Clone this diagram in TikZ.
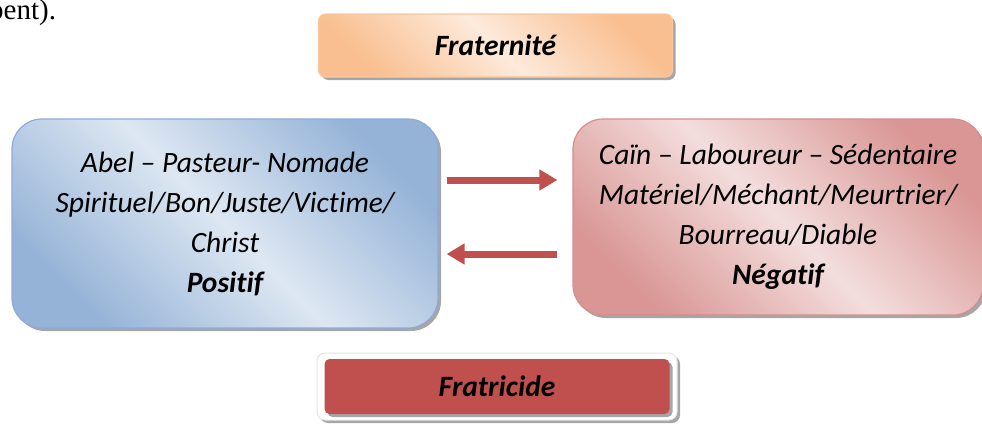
\documentclass[tikz,border=0pt]{standalone}
\usepackage{fontspec}
\setmainfont{Carlito}[Ligatures={NoCommon}]
\newfontfamily\seriffont{Liberation Serif}
\usetikzlibrary{shadows,arrows.meta}
\definecolor{orlight}{HTML}{FDEADB}
\definecolor{ordark}{HTML}{F9BF90}
\definecolor{orline}{HTML}{F8C8A0}
\definecolor{bluelight}{HTML}{DDE7F2}
\definecolor{bluedark}{HTML}{95B3D7}
\definecolor{blueline}{HTML}{8EAADB}
\definecolor{pinklight}{HTML}{F3DEDD}
\definecolor{pinkdark}{HTML}{D99694}
\definecolor{pinkline}{HTML}{D68E8C}
\definecolor{redfill}{HTML}{C0504D}
\definecolor{framegrey}{HTML}{E4E4E4}
\tikzset{
  shade3/.style n args={2}{top color=#1, bottom color=#1, middle color=#2, shading angle=-45},
  boxshadow/.style={drop shadow={shadow xshift=3pt, shadow yshift=-3pt, fill=black!35, opacity=1}},
  bigbox/.style={rounded corners=30pt, line width=1.2pt, boxshadow, align=center, inner sep=0pt,
                 font=\itshape\fontsize{29.5}{40}\selectfont},
  titlebox/.style={rounded corners=7pt, line width=1.2pt, boxshadow, inner sep=0pt,
                 font=\bfseries\itshape\fontsize{29.5}{32}\selectfont},
  arr/.style={draw=redfill, line width=7pt, -{Triangle[length=18pt,width=20pt]}}
}
\begin{document}
\begin{tikzpicture}[x=1pt,y=-1pt]
\path[use as bounding box, clip] (0,0) rectangle (982,424);

\node[anchor=base west, font=\seriffont\fontsize{29}{32}\selectfont, inner sep=0pt] (prev) at (-11,19.5) {pent).};

\node[titlebox, draw=orline, shade3={ordark}{orlight}, minimum width=354pt, minimum height=63pt]
  (fraternite) at (495.5,45.5) {Fraternité};

\node[bigbox, draw=blueline, shade3={bluedark}{bluelight}, minimum width=426pt, minimum height=209pt]
  (abel) at (225,223.5) {Abel – Pasteur- Nomade\\Spirituel/Bon/Juste/Victime/\\Christ\\\textbf{Positif}};

\node[bigbox, draw=pinkline, shade3={pinkdark}{pinklight}, minimum width=410pt, minimum height=196pt]
  (cain) at (778,217) {Caïn – Laboureur – Sédentaire\\Matériel/Méchant/Meurtrier/\\Bourreau/Diable\\\textbf{Négatif}};

\node[rounded corners=8pt, draw=framegrey, line width=1pt, fill=white, boxshadow,
      minimum width=360pt, minimum height=67pt, inner sep=0pt] (fratframe) at (497,386.5) {};
\node[titlebox, rounded corners=5pt, draw=none, fill=redfill, drop shadow={opacity=0},
      minimum width=345pt, minimum height=55pt] (fratricide) at (fratframe.center) {Fratricide};

\draw[arr] ([xshift=8pt,yshift=43.5pt]abel.east) -- ([xshift=-15pt,yshift=37pt]cain.west);
\draw[arr] ([xshift=-15pt,yshift=-37pt]cain.west) -- ([xshift=8pt,yshift=-30.5pt]abel.east);
\end{tikzpicture}
\end{document}
